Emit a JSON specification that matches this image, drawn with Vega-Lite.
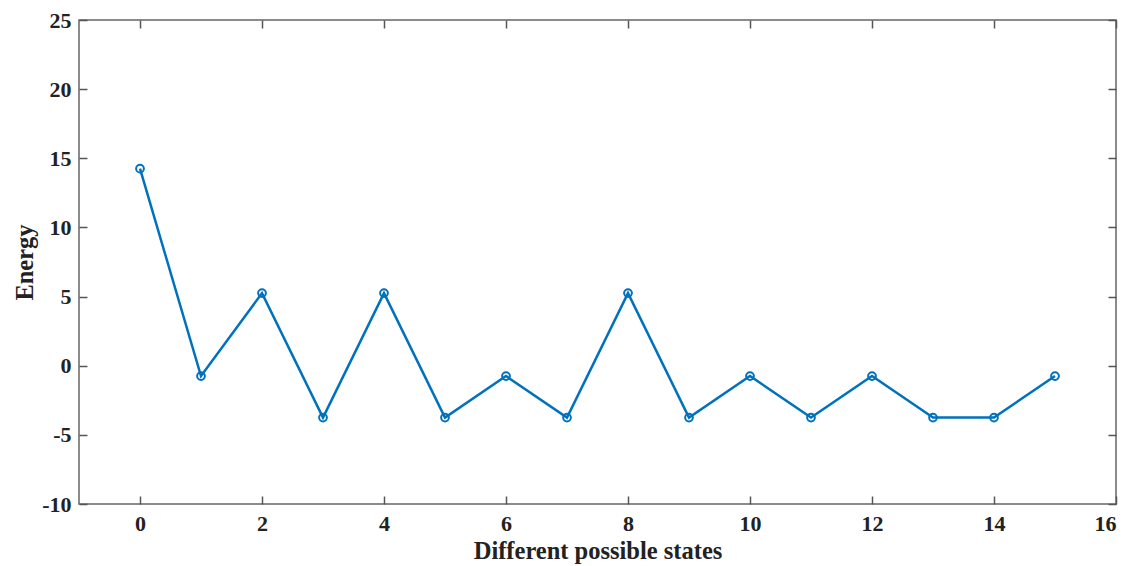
{
  "$schema": "https://vega.github.io/schema/vega-lite/v6.json",
  "autosize": "none",
  "width": 1037,
  "height": 484,
  "padding": {"left": 79, "top": 20, "right": 22, "bottom": 62},
  "background": "white",
  "config": {
    "view": {"stroke": "#666666", "strokeWidth": 1.5},
    "font": "Liberation Serif",
    "axis": {
      "grid": false,
      "domain": false,
      "tickColor": "#555555",
      "tickWidth": 1.5,
      "tickSize": -8,
      "labelFont": "Liberation Serif",
      "labelFontWeight": "bold",
      "labelFontSize": 22,
      "labelColor": "#222222",
      "labelExpr": "replace(datum.label, '\u2212', '-')",
      "titleFont": "Liberation Serif",
      "titleFontWeight": "bold",
      "titleFontSize": 24.5,
      "titleColor": "#222222"
    }
  },
  "data": {
    "values": [
      {"state": 0, "energy": 14.25},
      {"state": 1, "energy": -0.75},
      {"state": 2, "energy": 5.25},
      {"state": 3, "energy": -3.75},
      {"state": 4, "energy": 5.25},
      {"state": 5, "energy": -3.75},
      {"state": 6, "energy": -0.75},
      {"state": 7, "energy": -3.75},
      {"state": 8, "energy": 5.25},
      {"state": 9, "energy": -3.75},
      {"state": 10, "energy": -0.75},
      {"state": 11, "energy": -3.75},
      {"state": 12, "energy": -0.75},
      {"state": 13, "energy": -3.75},
      {"state": 14, "energy": -3.75},
      {"state": 15, "energy": -0.75}
    ]
  },
  "resolve": {"axis": {"x": "independent", "y": "independent"}},
  "layer": [
    {
      "mark": {"type": "line", "color": "#0072BD", "strokeWidth": 2.5},
      "encoding": {
        "x": {
          "field": "state", "type": "quantitative",
          "scale": {"domain": [-1, 16], "nice": false, "zero": false},
          "axis": {"values": [0, 2, 4, 6, 8, 10, 12, 14, 16], "title": "Different possible states", "labelPadding": 17, "titlePadding": 5}
        },
        "y": {
          "field": "energy", "type": "quantitative",
          "scale": {"domain": [-10, 25], "nice": false, "zero": false},
          "axis": {"values": [-10, -5, 0, 5, 10, 15, 20, 25], "title": "Energy", "labelPadding": 16, "titlePadding": 4}
        }
      }
    },
    {
      "mark": {"type": "point", "shape": "circle", "filled": false, "color": "#0072BD", "strokeWidth": 2, "size": 60, "opacity": 1},
      "encoding": {
        "x": {
          "field": "state", "type": "quantitative",
          "scale": {"domain": [-1, 16], "nice": false, "zero": false},
          "axis": {"orient": "top", "values": [0, 2, 4, 6, 8, 10, 12, 14, 16], "labels": false, "title": null}
        },
        "y": {
          "field": "energy", "type": "quantitative",
          "scale": {"domain": [-10, 25], "nice": false, "zero": false},
          "axis": {"orient": "right", "values": [-10, -5, 0, 5, 10, 15, 20, 25], "labels": false, "title": null}
        }
      }
    }
  ]
}
